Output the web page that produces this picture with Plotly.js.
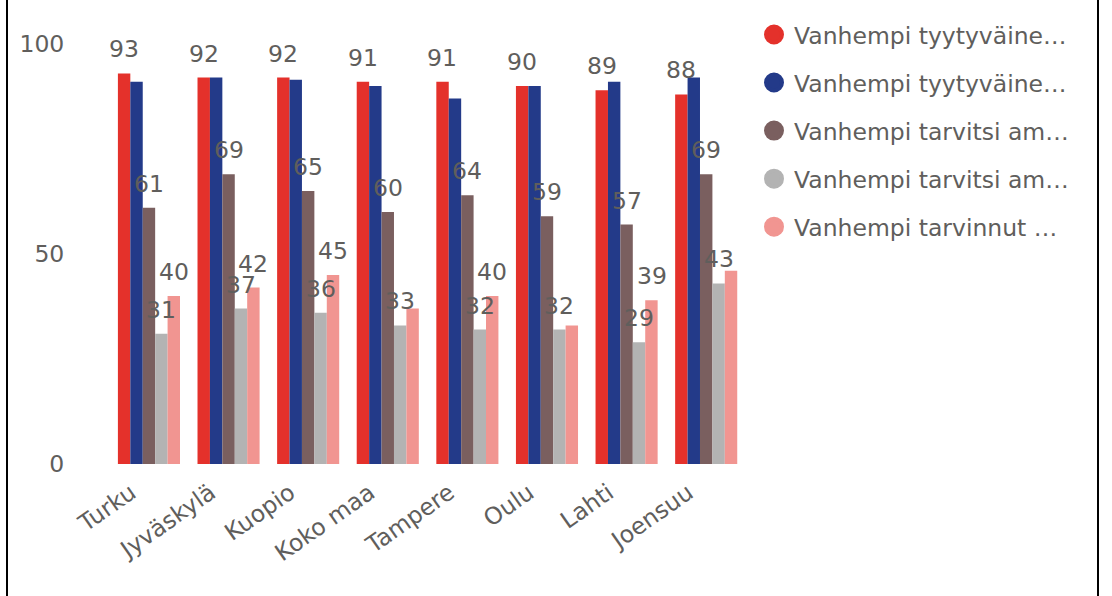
<!DOCTYPE html>
<html>
<head>
<meta charset="utf-8">
<script src="https://cdn.plot.ly/plotly-3.0.1.min.js"></script>
<style>
html,body{margin:0;padding:0;background:#fff;}
#chart{width:1112px;height:596px;}
</style>
</head>
<body>
<div id="chart"></div>
<script>
const categories = ['Turku','Jyväskylä','Kuopio','Koko maa','Tampere','Oulu','Lahti','Joensuu'];
const seriesNames = ['Vanhempi tyytyväine…','Vanhempi tyytyväine…','Vanhempi tarvitsi am…','Vanhempi tarvitsi am…','Vanhempi tarvinnut …'];
const red   = [93, 92, 92, 91, 91, 90, 89, 88];
const blue  = [91, 92, 91.5, 90, 87, 90, 91, 92];
const brown = [61, 69, 65, 60, 64, 59, 57, 69];
const gray  = [31, 37, 36, 33, 32, 32, 29, 43];
const pink  = [40, 42, 45, 37, 40, 33, 39, 46];
const yTicks = [0, 50, 100];
// which data labels the reference actually shows (blue none; some pink hidden by overlap)
const showRed   = [1, 1, 1, 1, 1, 1, 1, 1];
const showBlue  = [0, 0, 0, 0, 0, 0, 0, 0];
const showBrown = [1, 1, 1, 1, 1, 1, 1, 1];
const showGray  = [1, 1, 1, 1, 1, 1, 1, 1];
const showPink  = [1, 1, 1, 0, 1, 0, 1, 0];

const series = [red, blue, brown, gray, pink];
const shows = [showRed, showBlue, showBrown, showGray, showPink];
const colors = ['#E4312B', '#233A89', '#7A5F5F', '#B3B3B3', '#F19591'];

const M = {l:107, r:366, t:44, b:132};
const W = 1112, H = 596;
const plotW = W - M.l - M.r;
const bargap = 0.22;
const barW = plotW / categories.length * (1 - bargap) / series.length;
const txt = '#605E5C';
const FONT = 'DejaVu Sans, Verdana, sans-serif';
const FS = 23.5;

const traces = [];
series.forEach((vals, i) => {
  traces.push({
    type: 'bar', x: categories, y: vals, name: seriesNames[i],
    marker: {color: colors[i]}, showlegend: false, hoverinfo: 'x+y'
  });
});
series.forEach((vals, i) => {
  traces.push({
    type: 'scatter', mode: 'markers', x: [categories[0]], y: [null],
    name: seriesNames[i], legendgroup: 'g' + i, showlegend: true,
    marker: {symbol: 'circle', size: 16, color: colors[i], line: {width: 4, color: colors[i]}},
    hoverinfo: 'skip'
  });
});

const annotations = [];
series.forEach((vals, i) => {
  vals.forEach((v, j) => {
    if (!shows[i][j]) return;
    annotations.push({
      x: categories[j], y: v, xref: 'x', yref: 'y',
      text: String(Math.round(v)), showarrow: false,
      xshift: (i - (series.length - 1) / 2) * barW, yshift: 24, yanchor: 'middle',
      font: {family: FONT, size: FS, color: txt}
    });
  });
});

const px2paperX = p => (p - M.l) / plotW;
const shapes = [7, 1098].map(p => ({
  type: 'line', xref: 'paper', yref: 'paper',
  x0: px2paperX(p), x1: px2paperX(p), y0: -1, y1: 2,
  line: {color: '#000', width: 2}
}));

const layout = {
  width: W, height: H, margin: M,
  paper_bgcolor: '#fff', plot_bgcolor: '#fff',
  font: {family: FONT, size: FS, color: txt},
  barmode: 'group', bargap: bargap, bargroupgap: 0,
  xaxis: {
    type: 'category', tickangle: -35, showgrid: false, zeroline: false, showline: false,
    ticks: 'outside', ticklen: 5, tickcolor: 'rgba(0,0,0,0)', ticklabelshift: -18,
    tickfont: {family: FONT, size: FS, color: txt}
  },
  yaxis: {
    range: [0, 100], tickvals: yTicks, ticktext: yTicks.map(String),
    showgrid: false, zeroline: false, showline: false,
    ticks: 'outside', ticklen: 37, tickcolor: 'rgba(0,0,0,0)',
    tickfont: {family: FONT, size: FS, color: txt}
  },
  legend: {
    x: px2paperX(754), xanchor: 'left', y: 1.0745, yanchor: 'top',
    font: {family: FONT, size: FS, color: txt},
    tracegroupgap: 14.5, bgcolor: 'rgba(0,0,0,0)'
  },
  annotations: annotations,
  shapes: shapes,
  showlegend: true
};

Plotly.newPlot('chart', traces, layout, {displayModeBar: false, staticPlot: true});
</script>
</body>
</html>
